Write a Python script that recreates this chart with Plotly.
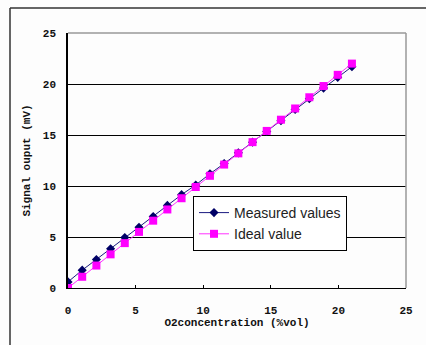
import plotly.graph_objects as go

x_vals = [0, 1.05, 2.1, 3.15, 4.2, 5.25, 6.3, 7.35, 8.4, 9.45, 10.5,
          11.55, 12.6, 13.65, 14.7, 15.75, 16.8, 17.85, 18.9, 19.95, 21.0]
measured = [0.6, 1.75, 2.8, 3.85, 4.95, 5.95, 7.0, 8.1, 9.15, 10.1, 11.2,
            12.2, 13.25, 14.3, 15.35, 16.4, 17.5, 18.55, 19.6, 20.65, 21.7]
ideal = [0.0, 1.1, 2.2, 3.3, 4.4, 5.5, 6.6, 7.7, 8.8, 9.9, 11.0,
         12.1, 13.2, 14.3, 15.4, 16.5, 17.6, 18.7, 19.8, 20.9, 22.0]
tick_vals = [0, 5, 10, 15, 20, 25]

W, H = 426, 345
L, R, T, B = 68, 20, 33, 57
pw, ph = W - L - R, H - T - B

def px(x):
    return (x - L) / pw

def py(y):
    return (H - B - y) / ph

fig = go.Figure()
fig.add_trace(go.Scatter(x=x_vals, y=measured, name="Measured values", mode="lines+markers",
                         line=dict(color="#1a1a80", width=1),
                         marker=dict(symbol="diamond", size=7, color="#000066")))
fig.add_trace(go.Scatter(x=x_vals, y=ideal, name="Ideal value", mode="lines+markers",
                         line=dict(color="#ff33ff", width=1),
                         marker=dict(symbol="square", size=8, color="#ff00ff")))

tickfont = dict(family="Liberation Mono", size=11, color="#111", weight="bold")
fig.update_layout(
    width=W, height=H,
    margin=dict(l=L, r=R, t=T, b=B),
    paper_bgcolor="#fdfdfd", plot_bgcolor="#fdfdfd",
    showlegend=True,
    legend=dict(x=px(193), y=py(196), xanchor="left", yanchor="top",
                bgcolor="white", bordercolor="black", borderwidth=1,
                font=dict(family="Liberation Sans", size=14, color="#222"),
                itemwidth=30, tracegroupgap=0),
    xaxis=dict(range=[0, 25], tickvals=tick_vals, showgrid=False, zeroline=False,
               showline=True, linecolor="black", linewidth=1, mirror=False,
               ticks="inside", ticklen=3, tickcolor="black",
               tickfont=tickfont, ticklabelstandoff=12,
               title=dict(text="O2concentration (%vol)", standoff=2,
                          font=dict(family="Liberation Mono", size=11, color="#111", weight="bold"))),
    yaxis=dict(range=[0, 25], tickvals=tick_vals, showgrid=True, gridcolor="black", gridwidth=1,
               zeroline=False, showline=True, linecolor="black", linewidth=1.5,
               ticks="", tickfont=tickfont, ticklabelstandoff=8,
               title=dict(text="Signal ouput (mV)", standoff=10,
                          font=dict(family="Liberation Mono", size=11, color="#111", weight="bold"))),
    shapes=[
        dict(type="line", xref="paper", yref="paper", x0=0, x1=1, y0=1, y1=1,
             line=dict(color="#999", width=1.5)),
        dict(type="line", xref="paper", yref="paper", x0=1, x1=1, y0=0, y1=1,
             line=dict(color="#999", width=1.5)),
        dict(type="line", xref="paper", yref="paper", x0=px(10), x1=px(430), y0=py(8), y1=py(8),
             line=dict(color="#333", width=1.5)),
        dict(type="line", xref="paper", yref="paper", x0=px(10), x1=px(10), y0=py(8), y1=py(350),
             line=dict(color="#333", width=1.5)),
    ],
)
fig.write_html("out.html")
